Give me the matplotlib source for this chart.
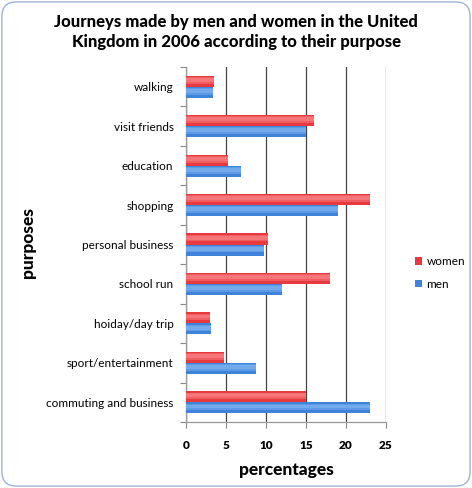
import matplotlib
matplotlib.use("Agg")
import matplotlib.pyplot as plt
from matplotlib.patches import FancyBboxPatch
import numpy as np

categories = ["walking", "visit friends", "education", "shopping", "personal business",
              "school run", "hoiday/day trip", "sport/entertainment", "commuting and business"]
women = [3.5, 16, 5.2, 23, 10.2, 18, 3, 4.8, 15]
men = [3.4, 15, 6.9, 19, 9.8, 12, 3.1, 8.8, 23]
xticks = [0, 5, 10, 15, 20, 25]

FONT = "Lato"
plt.rcParams['font.family'] = [FONT, 'DejaVu Sans']

fig = plt.figure(figsize=(4.72, 4.88), dpi=100)
ax = fig.add_axes([186/472, 1-422/488, 200/472, 355/488])

n = len(categories)
pos = np.arange(n)[::-1]
h = 0.28


def shaded(ax, centers, vals, base, light, label):
    ax.barh(centers, vals, height=h, color=base, zorder=3, label=label)
    # soft highlight layers (gradient look)
    ax.barh(centers + h*0.08, vals, height=h*0.6, color=light, alpha=0.45, zorder=3, linewidth=0)
    ax.barh(centers + h*0.12, vals, height=h*0.35, color=light, alpha=0.55, zorder=3, linewidth=0)


shaded(ax, pos + h/2, women, "#E8393E", "#FB8A8C", "women")
shaded(ax, pos - h/2, men, "#3F82DA", "#86B8F3", "men")

ax.set_xlim(0, 25)
ax.set_ylim(-0.5, n - 0.5)
ax.set_xticks(xticks)
ax.set_xticklabels([str(t) for t in xticks], fontsize=8.5, fontweight='heavy')
ax.set_yticks(pos)
ax.set_yticklabels(categories, fontsize=8.5)
ax.set_yticks(np.arange(-0.5, n, 1.0), minor=True)
ax.tick_params(axis='y', which='major', length=0, pad=9)
ax.tick_params(axis='y', which='minor', length=4, color='#888888', width=0.8)
ax.tick_params(axis='x', length=4, color='#888888', width=0.8, pad=9)
ax.xaxis.grid(True, color='#444444', linewidth=0.9, zorder=0)
for s in ['top', 'right']:
    ax.spines[s].set_visible(False)
for s in ['left', 'bottom']:
    ax.spines[s].set_color('#999999')
    ax.spines[s].set_linewidth(0.9)

ax.set_xlabel("percentages", fontsize=12.5, fontweight='black', labelpad=8)
fig.text(28/472, 1-243/488, "purposes", rotation=90, fontsize=12.5, fontweight='black',
         ha='center', va='center')

fig.text(0.5, 1-22/488, "Journeys made by men and women in the United",
         fontsize=12, fontweight='black', ha='center', va='center')
fig.text(0.5, 1-42/488, "Kingdom in 2006 according to their purpose",
         fontsize=12, fontweight='black', ha='center', va='center')

handles, labels = ax.get_legend_handles_labels()
leg = fig.legend(handles, labels, loc='center left', bbox_to_anchor=(404/472, 1-273/488),
                 frameon=False, fontsize=8.5, handlelength=0.6, handleheight=0.6,
                 handletextpad=0.4, labelspacing=1.0)

border = FancyBboxPatch((0.004, 0.004), 0.992, 0.992, boxstyle="round,pad=0,rounding_size=0.03",
                        transform=fig.transFigure, fill=False, edgecolor='#9db4d6', linewidth=1.0)
fig.patches.append(border)

fig.savefig("out.png", dpi=100)
